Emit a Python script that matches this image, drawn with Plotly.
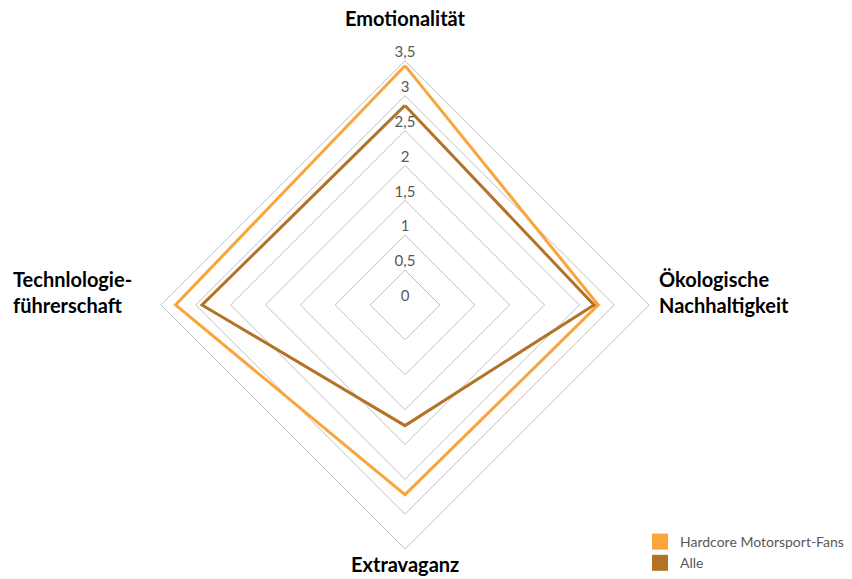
import plotly.graph_objects as go

categories = ["Emotionalität", "Ökologische<br>Nachhaltigkeit", "Extravaganz", "Technlologie-<br>führerschaft"]
series_names = ["Hardcore Motorsport-Fans", "Alle"]
hardcore = [3.43, 2.77, 2.72, 3.29]
alle = [2.86, 2.71, 1.73, 2.91]
tick_vals = [0, 0.5, 1, 1.5, 2, 2.5, 3, 3.5]
tick_text = ["0", "0,5", "1", "1,5", "2", "2,5", "3", "3,5"]

colors = ["#FAA53B", "#B27329"]
font_family = "Source Sans Pro, Lato, Noto Sans, sans-serif"
W, H = 852, 579

fig = go.Figure()
for name, vals, col in [(series_names[0], hardcore, colors[0]), (series_names[1], alle, colors[1])]:
    fig.add_trace(go.Scatterpolar(
        r=vals + vals[:1], theta=categories + categories[:1],
        mode="lines", line=dict(color=col, width=3), name=name,
        showlegend=False, hoverinfo="skip"))

# radial tick labels along the top spoke
fig.add_trace(go.Scatterpolar(
    r=[max(v, 1e-6) for v in tick_vals], theta=[categories[0]] * len(tick_vals), mode="text",
    text=tick_text, textposition="top center",
    textfont=dict(family=font_family, size=15, color="#595959"),
    showlegend=False, hoverinfo="skip", cliponaxis=False))

# legend entries as squares
for name, col in zip(series_names, colors):
    fig.add_trace(go.Scatterpolar(
        r=[None], theta=[categories[0]], mode="markers", name=name,
        marker=dict(symbol="square", size=18, color=col), showlegend=True))

# category labels
label_font = dict(family=font_family, size=20, color="#000000", weight="bold")
label_pos = [  # (x px, y px, xanchor, yanchor, align)
    (405, 18, "center", "middle", "center"),
    (657, 293, "left", "middle", "left"),
    (405, 566, "center", "middle", "center"),
    (11, 293, "left", "middle", "left"),
]
for cat, (px, py, xa, ya, al) in zip(categories, label_pos):
    fig.add_annotation(text=cat, x=px / W, y=1 - py / H, xref="paper", yref="paper",
                       xanchor=xa, yanchor=ya, align=al, showarrow=False, font=label_font)

fig.update_layout(
    width=W, height=H,
    margin=dict(l=0, r=0, t=0, b=0),
    paper_bgcolor="white", plot_bgcolor="white",
    separators=", ",
    font=dict(family=font_family, color="#000000"),
    polar=dict(
        domain=dict(x=[160 / W, 650 / W], y=[28 / H, 518 / H]),
        bgcolor="white",
        gridshape="linear",
        radialaxis=dict(range=[0, 3.5], tickvals=tick_vals, showticklabels=False,
                        showline=False, ticks="", gridcolor="#BFBFBF", gridwidth=1),
        angularaxis=dict(rotation=90, direction="clockwise", showgrid=False,
                         showline=True, linecolor="#BFBFBF", linewidth=1,
                         showticklabels=False, ticks=""),
    ),
    legend=dict(x=640 / W, y=1 - 528 / H, xanchor="left", yanchor="top",
                font=dict(family=font_family, size=14, color="#595959"),
                tracegroupgap=0, itemsizing="trace", bgcolor="rgba(0,0,0,0)"),
)

fig.write_html("out.html", config={"displayModeBar": False},
               post_script="document.body.style.margin='0px';")
